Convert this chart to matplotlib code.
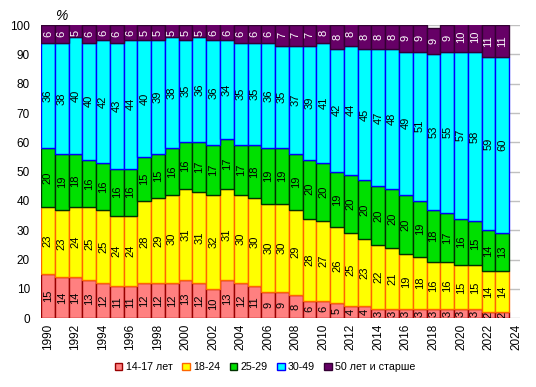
import matplotlib.pyplot as plt
import numpy as np

plt.rcParams['font.family'] = ['Liberation Sans', 'DejaVu Sans']

years = list(range(1990, 2024))

# доли возрастных групп, %
age_14_17 = [15, 14, 14, 13, 12, 11, 11, 12, 12, 12, 13, 12, 10, 13, 12, 11, 9,
             9, 8, 6, 6, 5, 4, 4, 3, 3, 3, 3, 3, 3, 3, 3, 2, 2]
age_18_24 = [23, 23, 24, 25, 25, 24, 24, 28, 29, 30, 31, 31, 32, 31, 30, 30, 30,
             30, 29, 28, 27, 26, 25, 23, 22, 21, 19, 18, 16, 16, 15, 15, 14, 14]
age_25_29 = [20, 19, 18, 16, 16, 16, 16, 15, 15, 16, 16, 17, 17, 17, 17, 18, 19,
             19, 19, 20, 20, 19, 20, 20, 20, 20, 20, 19, 18, 17, 16, 15, 14, 13]
age_30_49 = [36, 38, 40, 40, 42, 43, 44, 40, 39, 38, 35, 36, 36, 34, 35, 35, 36,
             35, 37, 39, 41, 42, 44, 45, 47, 48, 49, 51, 53, 55, 57, 58, 59, 60]
age_50 = [6, 6, 5, 6, 6, 6, 6, 5, 5, 5, 5, 5, 6, 6, 6, 6, 6,
          7, 7, 7, 8, 8, 8, 8, 8, 8, 9, 9, 9, 9, 10, 10, 11, 11]

series = [
    ('14-17 лет', age_14_17, '#FF8080', '#990000', 'black'),
    ('18-24', age_18_24, '#FFFF00', '#FF6600', 'black'),
    ('25-29', age_25_29, '#00E000', '#003300', 'black'),
    ('30-49', age_30_49, '#00FFFF', '#0000FF', 'black'),
    ('50 лет и старше', age_50, '#660066', '#330033', 'white'),
]

fig = plt.figure(figsize=(5.36, 3.87), dpi=100)
ax = fig.add_axes([0.0765, 0.178, 0.894, 0.757])

x = np.array(years)
bottom = np.zeros(len(years))
for name, vals, color, edge, tcol in series:
    vals = np.array(vals)
    ax.bar(x, vals, width=1.0, bottom=bottom, color=color, edgecolor=edge,
           linewidth=1.0, label=name, zorder=3)
    for xi, b, v in zip(x, bottom, vals):
        yc = min(b + v / 2, 97.5)
        ax.text(xi, yc, str(v), rotation=90, ha='center', va='center',
                fontsize=8, color=tcol, zorder=4, clip_on=True)
    bottom += vals

ax.set_xlim(1989.5, 2024.3)
ax.set_ylim(0, 100)
ax.set_yticks(range(0, 101, 10))
ax.set_xticks(range(1990, 2025, 2))
ax.tick_params(axis='x', rotation=90, labelsize=8.5, length=0, pad=4)
ax.tick_params(axis='y', labelsize=8.5, length=0, pad=8)
ax.grid(axis='y', color='#C0C0C0', linewidth=1.0, zorder=0)
for s in ax.spines.values():
    s.set_visible(False)

fig.text(0.115, 0.958, '%', fontsize=10, style='italic', ha='center', va='center')

ax.legend(loc='center', bbox_to_anchor=(0.468, -0.168), ncol=5, frameon=False,
          fontsize=7.7, handlelength=0.7, handleheight=0.7, handletextpad=0.3,
          columnspacing=0.9)

fig.savefig('out.png', dpi=100)
